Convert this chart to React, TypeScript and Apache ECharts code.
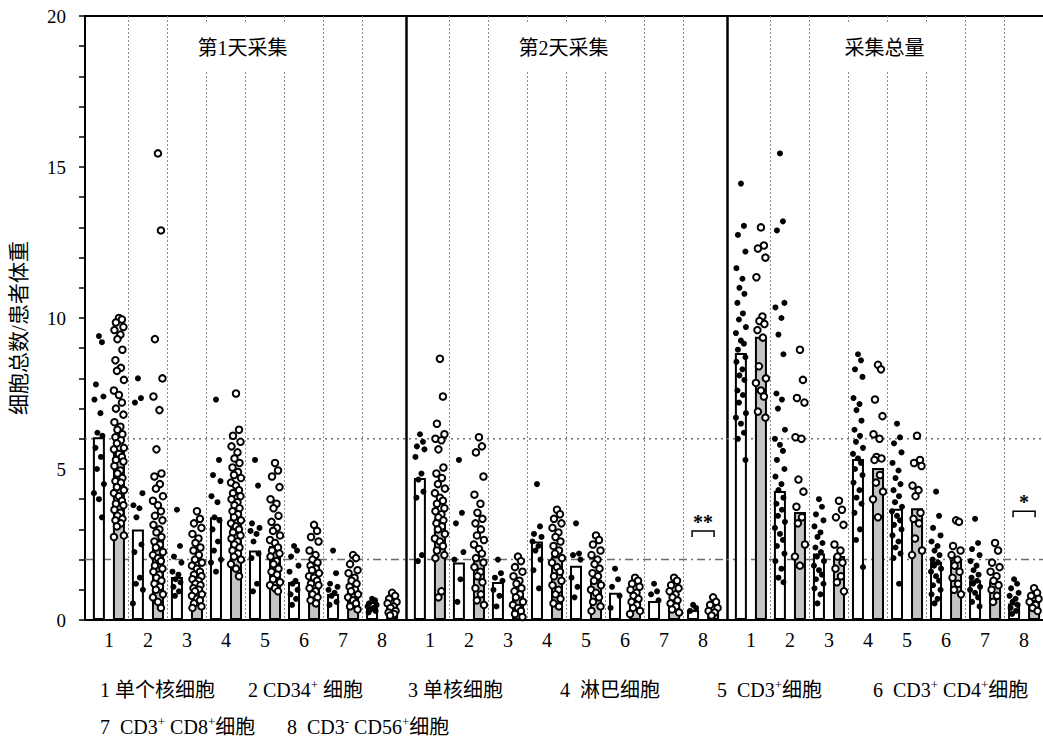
import React, { useEffect, useRef } from 'react';
import * as echarts from 'echarts';

// ---------- data ----------
const CATEGORIES = ['1', '2', '3', '4', '5', '6', '7', '8'];
const PANEL_TITLES = ['第1天采集', '第2天采集', '采集总量'];
const Y_AXIS_NAME = '细胞总数/患者体重';
const Y_TICK_LABELS = ['0', '5', '10', '15', '20'];
const REF_LINE_VALUES = [6, 2];

// bar heights (white = first bar, gray = second bar)
const D1_WHITE_BARS = [6.05, 3.0, 1.42, 3.4, 2.3, 1.26, 0.86, 0.6];
const D1_GRAY_BARS = [5.6, 2.65, 1.0, 3.57, 2.45, 1.5, 1.05, 0.45];
const D2_WHITE_BARS = [4.7, 1.9, 1.26, 2.6, 1.8, 0.9, 0.63, 0.33];
const D2_GRAY_BARS = [3.35, 2.0, 0.8, 2.1, 1.33, 0.7, 0.6, 0.28];
const TOT_WHITE_BARS = [8.84, 4.27, 2.2, 5.33, 3.68, 1.93, 1.32, 0.55];
const TOT_GRAY_BARS = [9.38, 3.58, 2.12, 5.03, 3.7, 2.0, 1.28, 0.66];

// individual patients (filled dots on white bars, hollow dots on gray bars)
const D1_WHITE_DOTS = [
  [9.4, 9.2, 7.8, 7.4, 7.3, 6.85, 6.2, 6.1, 5.7, 5.4, 5.0, 4.5, 4.2, 4.0, 3.4],
  [8.0, 7.35, 7.2, 4.2, 3.8, 3.7, 3.4, 2.5, 2.25, 1.4, 1.2, 1.0, 0.55],
  [3.65, 2.45, 2.1, 1.9, 1.6, 1.5, 1.35, 1.25, 1.1, 0.95, 0.8],
  [7.3, 5.3, 4.8, 4.6, 4.1, 3.9, 3.4, 3.3, 3.0, 2.6, 2.3, 2.0, 1.9, 1.6],
  [5.3, 4.45, 3.2, 3.05, 2.95, 2.85, 2.6, 2.2, 2.05, 1.2, 0.95],
  [2.45, 2.3, 2.1, 1.8, 1.6, 1.3, 1.2, 1.0, 0.85, 0.7, 0.5],
  [2.3, 1.55, 1.2, 1.1, 1.0, 0.9, 0.8, 0.6, 0.5],
  [0.7, 0.65, 0.55, 0.5, 0.45, 0.4, 0.35, 0.3, 0.25],
];
const D1_GRAY_DOTS = [
  [10.0, 9.95, 9.85, 9.7, 9.6, 9.45, 9.3, 8.95, 8.6, 8.35, 8.25, 7.95, 7.6, 7.45, 7.2, 7.0, 6.8, 6.55, 6.4, 6.3, 6.15, 6.05, 5.95, 5.85, 5.7, 5.65, 5.5, 5.4, 5.3, 5.25, 5.1, 4.95, 4.85, 4.7, 4.6, 4.55, 4.4, 4.3, 4.2, 4.1, 3.95, 3.85, 3.8, 3.65, 3.55, 3.45, 3.35, 3.3, 3.2, 3.1, 2.8, 2.75],
  [15.45, 12.9, 9.3, 8.0, 7.4, 6.95, 5.65, 4.85, 4.75, 4.5, 4.35, 4.1, 3.95, 3.8, 3.6, 3.45, 3.3, 3.15, 3.0, 2.9, 2.75, 2.6, 2.5, 2.4, 2.25, 2.15, 2.05, 1.95, 1.8, 1.7, 1.6, 1.5, 1.4, 1.3, 1.2, 1.1, 1.0, 0.85, 0.75, 0.6, 0.4],
  [3.6, 3.35, 3.2, 3.05, 2.85, 2.7, 2.55, 2.4, 2.3, 2.15, 2.0, 1.9, 1.8, 1.7, 1.6, 1.5, 1.45, 1.35, 1.3, 1.2, 1.15, 1.05, 1.0, 0.95, 0.85, 0.8, 0.7, 0.65, 0.55, 0.45, 0.4],
  [7.5, 6.3, 6.1, 5.9, 5.75, 5.55, 5.35, 5.2, 5.05, 4.9, 4.8, 4.7, 4.55, 4.45, 4.3, 4.2, 4.1, 4.0, 3.9, 3.8, 3.7, 3.6, 3.5, 3.4, 3.3, 3.2, 3.1, 3.0, 2.9, 2.8, 2.7, 2.6, 2.5, 2.4, 2.3, 2.2, 2.1, 2.0, 1.85, 1.7, 1.45],
  [5.2, 4.95, 4.75, 4.4, 4.0, 3.85, 3.7, 3.45, 3.25, 3.05, 2.95, 2.8, 2.65, 2.55, 2.4, 2.3, 2.2, 2.1, 1.95, 1.85, 1.7, 1.6, 1.5, 1.35, 1.25, 1.15, 1.05, 0.95],
  [3.15, 2.95, 2.75, 2.6, 2.3, 2.15, 2.0, 1.9, 1.8, 1.7, 1.65, 1.55, 1.45, 1.4, 1.3, 1.2, 1.15, 1.05, 0.95, 0.85, 0.75, 0.65, 0.55],
  [2.15, 2.05, 1.85, 1.65, 1.55, 1.4, 1.3, 1.2, 1.1, 1.0, 0.95, 0.85, 0.75, 0.65, 0.55, 0.45, 0.35],
  [0.9, 0.8, 0.7, 0.6, 0.55, 0.45, 0.4, 0.3, 0.25, 0.2, 0.15],
];
const D2_WHITE_DOTS = [
  [6.15, 5.9, 5.75, 5.65, 5.4, 4.85, 4.65, 4.25, 4.05, 2.15, 1.95],
  [5.3, 3.55, 3.2, 2.25, 2.0, 1.35, 0.6],
  [2.0, 1.55, 1.4, 1.3, 1.0, 0.8, 0.45],
  [4.5, 3.1, 2.85, 2.75, 2.6, 2.45, 2.3, 2.0, 1.65, 1.05],
  [3.2, 2.2, 2.15, 2.0, 1.4, 1.1, 0.75],
  [1.7, 1.35, 1.1, 0.8, 0.4],
  [1.2, 0.95, 0.85, 0.65],
  [0.5, 0.4, 0.3],
];
const D2_GRAY_DOTS = [
  [8.65, 7.4, 6.5, 6.15, 6.0, 5.95, 5.65, 5.05, 4.85, 4.7, 4.5, 4.35, 4.2, 4.05, 3.95, 3.85, 3.7, 3.6, 3.5, 3.4, 3.3, 3.2, 3.1, 3.0, 2.85, 2.7, 2.6, 2.45, 2.3, 2.15, 2.05, 0.95, 0.75],
  [6.05, 5.75, 5.55, 4.75, 4.15, 3.85, 3.55, 3.35, 3.2, 3.0, 2.8, 2.65, 2.5, 2.35, 2.2, 2.05, 1.9, 1.75, 1.6, 1.45, 1.25, 1.05, 0.85, 0.65, 0.5],
  [2.1, 1.95, 1.75, 1.6, 1.45, 1.3, 1.2, 1.05, 0.95, 0.85, 0.75, 0.6, 0.5, 0.4, 0.3, 0.2, 0.1],
  [3.65, 3.5, 3.35, 3.2, 3.05, 2.9, 2.75, 2.6, 2.45, 2.3, 2.2, 2.05, 1.9, 1.75, 1.6, 1.45, 1.3, 1.15, 1.0, 0.85, 0.7, 0.55, 0.45],
  [2.8, 2.65, 2.5, 2.3, 2.15, 2.0, 1.85, 1.7, 1.55, 1.45, 1.3, 1.15, 1.0, 0.9, 0.75, 0.6, 0.45, 0.3],
  [1.4, 1.3, 1.2, 1.1, 1.0, 0.9, 0.8, 0.7, 0.6, 0.5, 0.4, 0.3, 0.2],
  [1.4, 1.3, 1.15, 1.05, 0.95, 0.85, 0.75, 0.65, 0.55, 0.45, 0.35, 0.25],
  [0.75, 0.6, 0.5, 0.4, 0.3, 0.25, 0.15],
];
const TOT_WHITE_DOTS = [
  [14.45, 13.05, 12.75, 12.2, 11.65, 11.3, 11.0, 10.8, 10.5, 10.15, 9.95, 9.7, 9.5, 9.25, 9.15, 8.95, 8.7, 8.55, 8.3, 8.1, 7.95, 7.6, 7.45, 7.2, 6.85, 6.7, 6.5, 6.2, 6.0, 5.3],
  [15.45, 13.2, 12.9, 10.5, 10.35, 10.0, 9.45, 8.8, 7.5, 7.3, 7.0, 6.3, 6.0, 5.8, 5.6, 5.3, 5.0, 4.75, 4.5, 4.3, 4.05, 3.85, 3.65, 3.45, 3.25, 3.05, 2.85, 2.65, 2.45, 2.2, 1.95, 1.7, 1.4, 1.25],
  [4.0, 3.75, 3.5, 3.3, 3.1, 2.9, 2.75, 2.55, 2.4, 2.25, 2.1, 1.95, 1.8, 1.65, 1.5, 1.35, 1.2, 1.05, 0.85, 0.55],
  [8.8, 8.6, 8.3, 8.05, 7.35, 7.15, 6.95, 6.6, 6.3, 6.1, 5.9, 5.7, 5.5, 5.35, 5.2, 5.0, 4.8, 4.55, 4.3, 4.05, 3.85, 3.55, 3.0, 2.65, 1.75],
  [6.5, 6.05, 5.85, 5.55, 5.2, 4.95, 4.7, 4.5, 4.3, 4.1, 3.9, 3.75, 3.6, 3.45, 3.3, 3.15, 3.0, 2.8, 2.6, 2.4, 2.2, 2.05, 1.2],
  [4.25, 3.45, 3.05, 2.8, 2.6, 2.45, 2.3, 2.15, 2.0, 1.9, 1.8, 1.7, 1.6, 1.45, 1.3, 1.15, 1.0, 0.85, 0.7, 0.55],
  [3.35, 2.55, 2.35, 2.15, 1.95, 1.8, 1.65, 1.5, 1.4, 1.3, 1.2, 1.1, 1.0, 0.9, 0.75, 0.6, 0.45],
  [1.35, 1.2, 1.05, 0.9, 0.8, 0.7, 0.6, 0.5, 0.4, 0.3, 0.2],
];
const TOT_GRAY_DOTS = [
  [13.0, 12.4, 12.3, 12.0, 11.35, 10.05, 9.9, 9.8, 9.6, 9.35, 8.4, 8.0, 7.85, 7.6, 7.4, 6.9, 6.7],
  [8.95, 7.95, 7.35, 7.2, 6.05, 6.0, 4.65, 4.25, 3.75, 3.4, 3.2, 2.5, 2.1, 1.8],
  [3.95, 3.65, 3.4, 3.15, 2.5, 2.3, 2.1, 1.9, 1.7, 1.45, 1.25, 0.95],
  [8.45, 8.3, 7.3, 6.75, 6.15, 6.0, 5.4, 5.35, 5.3, 4.8, 4.55, 4.25, 4.0, 3.4],
  [6.1, 5.3, 5.2, 5.1, 4.45, 4.3, 4.1, 3.55, 3.35, 3.2, 2.7, 2.3, 2.15],
  [3.3, 3.25, 2.45, 2.3, 2.15, 2.0, 1.8, 1.6, 1.4, 1.2, 1.0, 0.85],
  [2.55, 2.3, 1.9, 1.75, 1.6, 1.45, 1.3, 1.15, 1.0, 0.8, 0.6],
  [1.05, 0.9, 0.8, 0.7, 0.6, 0.5, 0.4, 0.3],
];

// significance marks
const SIG_PANEL = [1, 2];
const SIG_CATEGORY = ['8', '8'];
const SIG_VALUE = [2.95, 3.6];
const SIG_LABEL = ['**', '*'];

// legend lines ({s|..} = superscript)
const LEGEND_ROW1 = ['1 单个核细胞', '2 CD34{s|+} 细胞', '3 单核细胞', '4  淋巴细胞', '5  CD3{s|+}细胞', '6  CD3{s|+} CD4{s|+}细胞'];
const LEGEND_ROW2 = ['7  CD3{s|+} CD8{s|+}细胞', '8  CD3{s|-} CD56{s|+}细胞'];

// ---------- layout / style ----------
const FONT = "'Liberation Serif', 'Noto Sans CJK SC', serif";
const PLOT_LEFT = 85;
const PLOT_TOP = 16;
const PLOT_H = 604;
const PANEL_W = 321;
const INSET = 4.4;
const JITTER = [0, 3, -3, 4.5, -4.5, 1.5, -1.5, 3.5, -3.5, 2, -2, 5, -5];
const LEGEND_ROW1_X = [100, 248, 408, 560, 717, 873];
const LEGEND_ROW2_X = [100, 287];

const PANELS = [
  { white: D1_WHITE_BARS, gray: D1_GRAY_BARS, whiteDots: D1_WHITE_DOTS, grayDots: D1_GRAY_DOTS },
  { white: D2_WHITE_BARS, gray: D2_GRAY_BARS, whiteDots: D2_WHITE_DOTS, grayDots: D2_GRAY_DOTS },
  { white: TOT_WHITE_BARS, gray: TOT_GRAY_BARS, whiteDots: TOT_WHITE_DOTS, grayDots: TOT_GRAY_DOTS },
];

function dotData(groups: number[][], baseOffset: number) {
  const out: any[] = [];
  groups.forEach((vals, c) => {
    vals.forEach((v, k) => {
      out.push({ value: [CATEGORIES[c], v], symbolOffset: [baseOffset + JITTER[k % JITTER.length], 0] });
    });
  });
  return out;
}

function buildOption(): any {
  const grids: any[] = [
    {
      left: PLOT_LEFT, top: PLOT_TOP, width: PANEL_W * 3, height: PLOT_H, show: true,
      borderColor: '#000', borderWidth: 2, outerBoundsMode: 'none', containLabel: false,
    },
  ];
  const xAxes: any[] = [
    {
      gridIndex: 0, type: 'value', min: 0, max: 3, interval: 1,
      axisLine: { show: true, lineStyle: { color: '#000', width: 2 } },
      axisTick: { show: false }, axisLabel: { show: false },
      splitLine: { show: true, showMinLine: false, showMaxLine: false, lineStyle: { color: '#000', width: 2.5 } },
    },
  ];
  const yAxes: any[] = [
    {
      gridIndex: 0, type: 'value', min: 0, max: 20, interval: 1,
      axisLine: { show: true, lineStyle: { color: '#000', width: 2 } },
      axisTick: { show: true, length: 6, lineStyle: { color: '#000', width: 1.5 } },
      axisLabel: {
        color: '#000', fontSize: 19, fontFamily: FONT, margin: 19,
        formatter: (v: number) => (Y_TICK_LABELS.includes(String(v)) ? String(v) : ''),
      },
      splitLine: { show: false },
    },
  ];
  const series: any[] = [
    {
      type: 'custom', xAxisIndex: 0, yAxisIndex: 0, z: 1, silent: true,
      data: REF_LINE_VALUES.map((v) => [0, v]),
      renderItem: (params: any, api: any) => {
        const y = api.value(1);
        const a = api.coord([0, y]);
        const b = api.coord([3, y]);
        return {
          type: 'line',
          shape: { x1: a[0], y1: a[1], x2: b[0], y2: b[1] },
          style: { stroke: '#6e6e6e', lineWidth: 1.5, lineDash: params.dataIndex === 0 ? [2, 4] : [8, 4, 2, 4] },
        };
      },
    },
  ];

  PANELS.forEach((p, i) => {
    const gi = i + 1;
    grids.push({
      left: PLOT_LEFT + PANEL_W * i + INSET, top: PLOT_TOP, width: PANEL_W - 2 * INSET, height: PLOT_H,
      outerBoundsMode: 'none', containLabel: false,
    });
    xAxes.push({
      gridIndex: gi, type: 'category', data: CATEGORIES, boundaryGap: true,
      axisLine: { show: false }, axisTick: { show: false },
      axisLabel: { color: '#000', fontSize: 20, fontFamily: FONT, margin: 10 },
      splitLine: { show: true, showMinLine: false, showMaxLine: false, lineStyle: { color: '#8c8c8c', width: 1, type: [2, 2] } },
    });
    yAxes.push({ gridIndex: gi, type: 'value', min: 0, max: 20, show: false });
    series.push(
      {
        type: 'bar', xAxisIndex: gi, yAxisIndex: gi, data: p.white, barWidth: 12, barGap: '67%', z: 2, silent: true,
        itemStyle: { color: '#ffffff', borderColor: '#000', borderWidth: 2 },
      },
      {
        type: 'bar', xAxisIndex: gi, yAxisIndex: gi, data: p.gray, barWidth: 12, barGap: '67%', z: 2, silent: true,
        itemStyle: { color: '#c4c4c4', borderColor: '#000', borderWidth: 2 },
      },
      {
        type: 'scatter', xAxisIndex: gi, yAxisIndex: gi, data: dotData(p.whiteDots, -10), z: 3, silent: true,
        symbol: 'circle', symbolSize: 6, itemStyle: { color: '#000', opacity: 1 },
      },
      {
        type: 'scatter', xAxisIndex: gi, yAxisIndex: gi, data: dotData(p.grayDots, 10), z: 4, silent: true,
        symbol: 'circle', symbolSize: 6.5, itemStyle: { color: '#ffffff', borderColor: '#000', borderWidth: 2, opacity: 1 },
      },
    );
  });

  SIG_PANEL.forEach((panel, k) => {
    series.push({
      type: 'custom', xAxisIndex: panel + 1, yAxisIndex: panel + 1, z: 5, silent: true,
      data: [[SIG_CATEGORY[k], SIG_VALUE[k]]],
      renderItem: (params: any, api: any) => {
        const c = api.coord([api.value(0), api.value(1)]);
        const hw = 11;
        return {
          type: 'group',
          children: [
            {
              type: 'polyline',
              shape: { points: [[c[0] - hw, c[1] + 6], [c[0] - hw, c[1]], [c[0] + hw, c[1]], [c[0] + hw, c[1] + 6]] },
              style: { stroke: '#000', lineWidth: 1.5, fill: null },
            },
            {
              type: 'text', x: c[0], y: c[1] + 1,
              style: { text: SIG_LABEL[k], fontSize: 20, fontWeight: 'bold', fontFamily: FONT, fill: '#000', align: 'center', verticalAlign: 'bottom' },
            },
          ],
        };
      },
    });
  });

  const graphics: any[] = [];
  PANEL_TITLES.forEach((t, i) => {
    graphics.push({
      type: 'text', z: 100,
      x: PLOT_LEFT + PANEL_W * i + PANEL_W / 2 - 3, y: 48,
      style: {
        text: t, fontSize: 20, fontFamily: FONT, fill: '#000', align: 'center', verticalAlign: 'middle',
        backgroundColor: '#fff', padding: [14, 8],
      },
    });
  });
  graphics.push({
    type: 'text', z: 100, x: 19, y: 328, rotation: Math.PI / 2,
    style: { text: Y_AXIS_NAME, fontSize: 21, fontFamily: FONT, fill: '#000', align: 'center', verticalAlign: 'middle' },
  });
  const rich = { s: { fontSize: 13, fontFamily: FONT, fill: '#000', verticalAlign: 'top', lineHeight: 13 } };
  LEGEND_ROW1.forEach((t, i) => {
    graphics.push({
      type: 'text', z: 100, x: LEGEND_ROW1_X[i], y: 690,
      style: { text: t, rich, fontSize: 20, lineHeight: 24, fontFamily: FONT, fill: '#000', align: 'left', verticalAlign: 'middle' },
    });
  });
  LEGEND_ROW2.forEach((t, i) => {
    graphics.push({
      type: 'text', z: 100, x: LEGEND_ROW2_X[i], y: 727,
      style: { text: t, rich, fontSize: 20, lineHeight: 24, fontFamily: FONT, fill: '#000', align: 'left', verticalAlign: 'middle' },
    });
  });

  return {
    animation: false,
    backgroundColor: '#fff',
    grid: grids,
    xAxis: xAxes,
    yAxis: yAxes,
    series,
    graphic: { elements: graphics },
  };
}

export default function App() {
  const ref = useRef<HTMLDivElement>(null);
  useEffect(() => {
    document.body.style.margin = '0';
    if (!ref.current) return;
    const chart = echarts.init(ref.current, undefined, { renderer: 'svg' });
    chart.setOption(buildOption());
    return () => chart.dispose();
  }, []);
  return <div ref={ref} style={{ width: 1043, height: 741 }} />;
}
